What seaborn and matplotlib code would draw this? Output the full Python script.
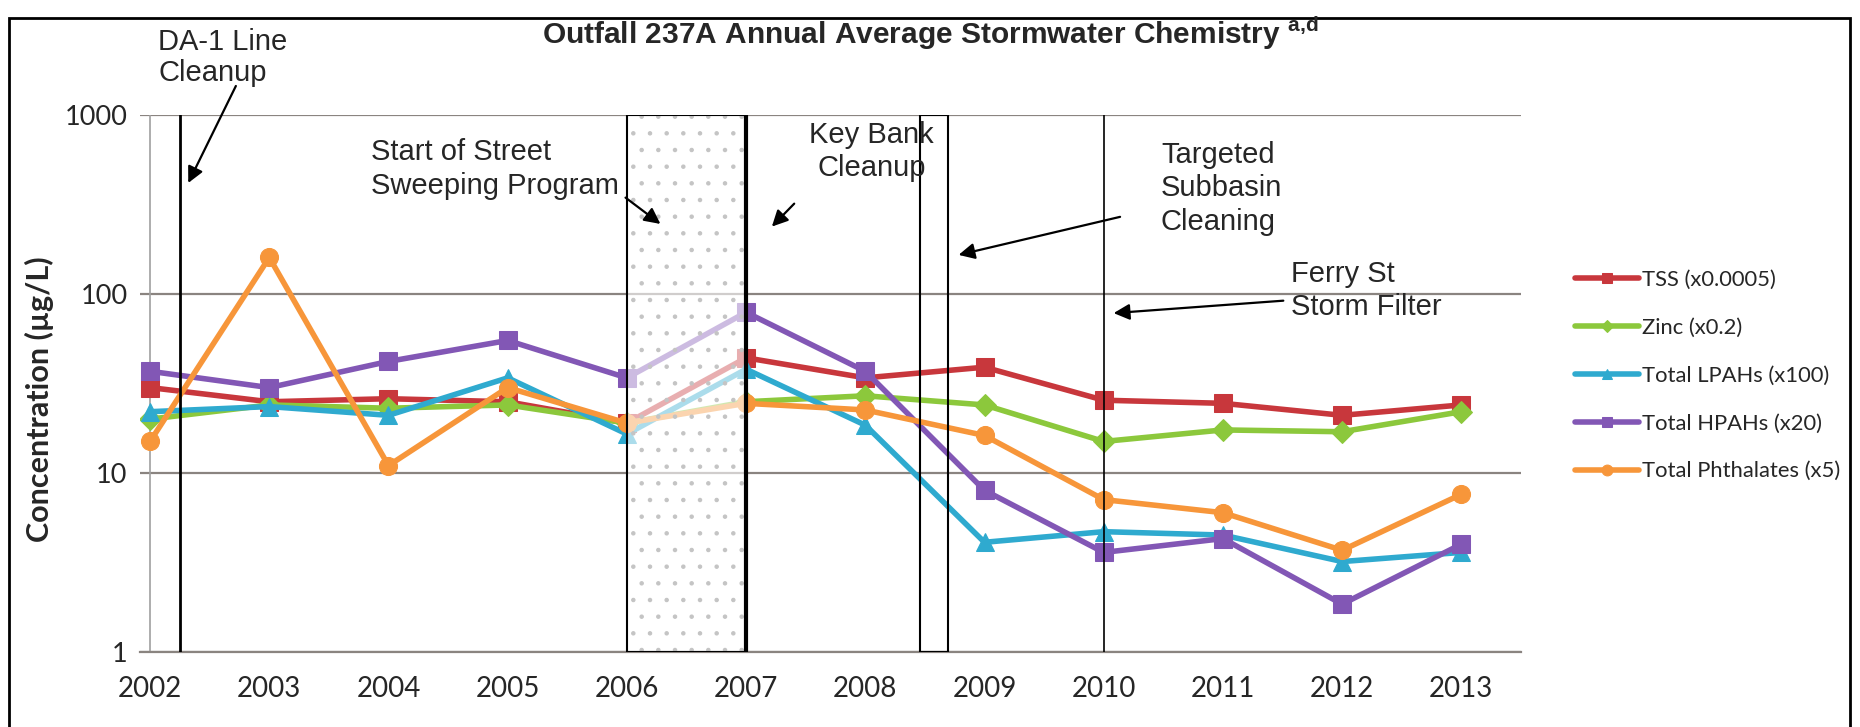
import numpy as np
import pandas as pd
import seaborn as sns
import matplotlib.pyplot as plt
from matplotlib.patches import Rectangle

# values (ug/L, already scaled)
years = ['2002', '2003', '2004', '2005', '2006', '2007', '2008', '2009', '2010', '2011', '2012', '2013']
tss = [30, 25, 26, 25, 19, 44, 34, 39, 25.5, 24.5, 21, 24]
zinc = [20, 24, 23, 24, 19, 25, 27, 24, 15, 17.4, 17, 22]
lpahs = [22, 23.5, 21, 34, 16.5, 38, 18.5, 4.1, 4.7, 4.5, 3.2, 3.6]
hpahs = [37, 30, 42, 55, 34, 79, 37, 8, 3.6, 4.3, 1.85, 4.0]
phthalates = [15, 160, 11, 30, 19, 24.5, 22.5, 16.2, 7.1, 6.0, 3.7, 7.6]

series_names = ['TSS (x0.0005)', 'Zinc (x0.2)', 'Total LPAHs (x100)', 'Total HPAHs (x20)', 'Total Phthalates (x5)']
series_vals = [tss, zinc, lpahs, hpahs, phthalates]
colors = ['#C8373C', '#8CC83C', '#2FAACF', '#8257B5', '#F7963A']
markers = ['s', 'D', '^', 's', 'o']

# events (x in years from 2002)
da1_x = 0.25
sweep_span = (4.0, 5.0)
keybank_span = (6.46, 6.69)
ferry_x = 8.0

rows = []
for name, vals in zip(series_names, series_vals):
    for i, v in enumerate(vals):
        rows.append({'idx': i, 'value': v, 'series': name})
df = pd.DataFrame(rows)

sns.set_style('white')
plt.rcParams['font.family'] = ['Liberation Sans', 'DejaVu Sans']
plt.rcParams['hatch.linewidth'] = 0.8

fig = plt.figure(figsize=(18.6, 7.27), dpi=100)
ax = fig.add_axes([0.0753, 0.1032, 0.7424, 0.7386])

for name, c, m in zip(series_names, colors, markers):
    sub = df[df['series'] == name]
    ms = 13 if m != 'D' else 11
    sns.lineplot(data=sub, x='idx', y='value', ax=ax, color=c, marker=m, markersize=ms,
                 markeredgecolor=c, linewidth=4, label=name, zorder=3)

ax.set_yscale('log')
ax.set_ylim(1, 1000)
ax.set_xlim(-0.084, 11.5)
ax.set_xticks(range(len(years)))
ax.set_xticklabels(years, fontfamily='Lato', fontsize=20)
ax.set_yticks([1, 10, 100, 1000])
ax.set_yticklabels(['1', '10', '100', '1000'], fontfamily='Lato', fontsize=19.5)
ax.minorticks_off()
ax.tick_params(axis='x', length=8, color='#888888', direction='inout', pad=13)
ax.tick_params(axis='y', length=0, pad=9)
ax.grid(axis='y', color='#8a8480', linewidth=1.6)
for s in ['top', 'right', 'left']:
    ax.spines[s].set_visible(False)
ax.axvline(0, color='#a0a0a0', linewidth=1.2, zorder=1)
ax.spines['bottom'].set_color('#8a8480')
ax.spines['bottom'].set_linewidth(1.6)
ax.set_xlabel('')
ax.set_ylabel('Concentration (µg/L)', fontfamily='Lato', fontweight='bold', fontsize=22)
ax.yaxis.set_label_coords(-0.062, 0.47)

# event markers
ax.axvline(da1_x, color='black', linewidth=2, zorder=5)
ax.axvline(ferry_x, color='black', linewidth=1.2, zorder=5)
sweep = Rectangle((sweep_span[0], 1), sweep_span[1] - sweep_span[0], 999, facecolor=(1, 1, 1, 0.6),
                  edgecolor='#c4c4c4', hatch='.', linewidth=0, zorder=4)
ax.add_patch(sweep)
ax.add_patch(Rectangle((sweep_span[0], 1), sweep_span[1] - sweep_span[0], 999, fill=False,
                       edgecolor='black', linewidth=1.5, zorder=5))
ax.axvline(sweep_span[1], color='black', linewidth=3, zorder=5)
ax.add_patch(Rectangle((keybank_span[0], 1), keybank_span[1] - keybank_span[0], 999, fill=False,
                       edgecolor='black', linewidth=1.5, zorder=5))

arrow = dict(arrowstyle='-|>', color='black', lw=1.6, mutation_scale=24)
tkw = dict(fontsize=21, va='top', linespacing=1.25, annotation_clip=False, zorder=7)


def pointer(head, tail):
    ax.annotate('', xy=head, xytext=tail, arrowprops=arrow, annotation_clip=False, zorder=7)


ax.annotate('DA-1 Line\nCleanup', xy=(0.07, 3060), ha='left', fontsize=21, va='top',
            linespacing=1.12, annotation_clip=False, zorder=7)
pointer((0.31, 404), (0.73, 1500))
ax.annotate('Start of Street\nSweeping Program', xy=(1.85, 740), ha='left', **tkw)
pointer((4.30, 241), (3.97, 353))
ax.annotate('Key Bank\nCleanup', xy=(6.05, 930), ha='center', **tkw)
pointer((5.20, 232), (5.42, 328))
ax.annotate('Targeted\nSubbasin\nCleaning', xy=(8.48, 720), ha='left', **tkw)
pointer((6.76, 164), (8.16, 272))
ax.annotate('Ferry St\nStorm Filter', xy=(9.57, 155), ha='left', **tkw)
pointer((8.06, 78), (9.53, 92))

fig.text(0.5, 0.94, 'Outfall 237A Annual Average Stormwater Chemistry $^{\\mathregular{a{,}d}}$',
         ha='center', va='baseline', fontsize=21.5, fontweight='bold')

leg = ax.legend(loc='upper left', bbox_to_anchor=(0.842, 0.641), bbox_transform=fig.transFigure,
                frameon=False, prop={'family': 'Lato', 'size': 15.8}, labelspacing=1.27,
                handlelength=2.9, markerscale=0.6, handletextpad=0.15, borderaxespad=0)
for line in leg.get_lines():
    line.set_linewidth(4)

# outer frame of the screenshot
fig.patches.append(Rectangle((0.005, -0.05), 0.9897, 1.025, transform=fig.transFigure,
                             fill=False, edgecolor='black', linewidth=2))

fig.savefig('out.png', dpi=100)
